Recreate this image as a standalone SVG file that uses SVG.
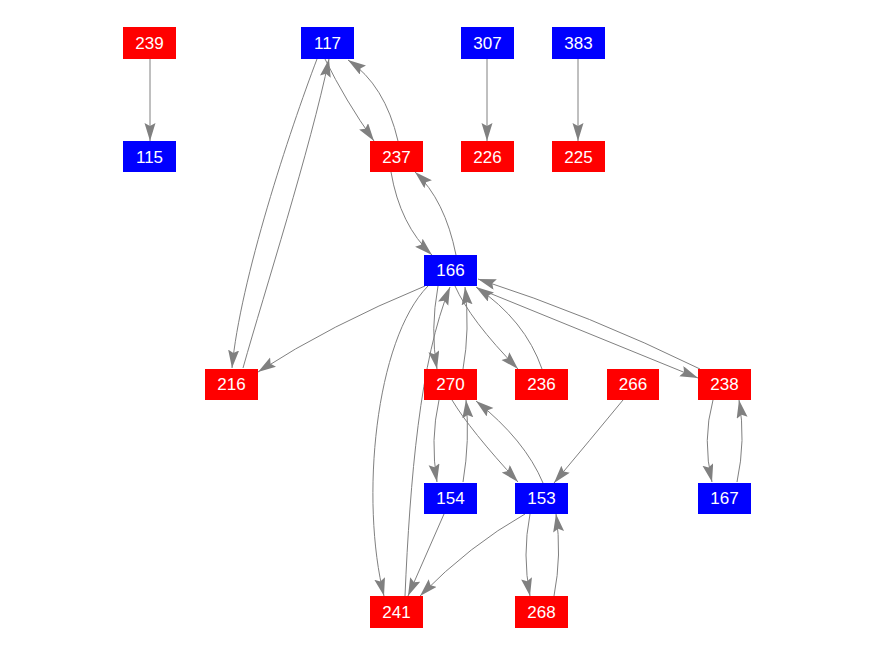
<svg xmlns="http://www.w3.org/2000/svg" width="876" height="656" viewBox="0 0 876 656">
<defs>
<style>
.r{fill:#ff0000}
.b{fill:#0000ff}
text{font-family:"Liberation Sans",Arial,sans-serif;font-size:17px;fill:#ffffff;text-anchor:middle}
.e path{fill:none;stroke:#808080;stroke-width:1;marker-end:url(#ah)}
</style>
<marker id="ah" markerUnits="userSpaceOnUse" markerWidth="19" markerHeight="12" refX="18" refY="5.5" orient="auto" viewBox="0 0 19 12">
<path d="M0,0 L18,5.5 L0,11 L3,5.5 Z" fill="#808080"/>
</marker>
</defs>
<rect width="876" height="656" fill="#ffffff"/>
<g class="e" id="edges">
<path d="M150,59 L150,141"/>
<path d="M487,59 L487,141"/>
<path d="M578,59 L578,141"/>
<path d="M325,59 Q345,100 374,141"/>
<path d="M398,141 Q385,85 348,60"/>
<path d="M317,59 C290,130 240,280 232,368"/>
<path d="M243,368 C265,290 310,150 329,59"/>
<path d="M391,172 Q400,225 432,255"/>
<path d="M456,255 Q445,200 415,172"/>
<path d="M425,286 Q330,325 258,372"/>
<path d="M428,286 C375,340 360,500 384,596"/>
<path d="M405,596 C410,480 420,360 450,287"/>
<path d="M438,286 Q430,330 437,369"/>
<path d="M463,369 Q470,330 465,287"/>
<path d="M439,400 Q430,440 437,482"/>
<path d="M463,482 Q470,440 466,400"/>
<path d="M452,400 Q470,430 518,482"/>
<path d="M543,483 Q525,440 476,401"/>
<path d="M444,514 L408,596"/>
<path d="M525,514 Q470,545 420,596"/>
<path d="M530,514 Q522,555 530,596"/>
<path d="M554,596 Q562,555 556,514"/>
<path d="M623,400 Q590,440 554,483"/>
<path d="M455,286 Q470,320 518,369"/>
<path d="M542,369 Q525,320 476,287"/>
<path d="M477,288 L698,378"/>
<path d="M700,369 Q590,315 478,279"/>
<path d="M713,400 Q702,440 712,482"/>
<path d="M737,482 Q746,440 739,400"/>
</g>
<g id="n239"><rect class="r" x="123" y="27" width="53" height="32"/><text x="149.5" y="49">239</text></g>
<g id="n117"><rect class="b" x="301" y="27" width="53" height="32"/><text x="327.5" y="49">117</text></g>
<g id="n307"><rect class="b" x="461" y="27" width="53" height="32"/><text x="487.5" y="49">307</text></g>
<g id="n383"><rect class="b" x="552" y="27" width="53" height="32"/><text x="578.5" y="49">383</text></g>
<g id="n115"><rect class="b" x="123" y="141" width="53" height="31"/><text x="149.5" y="163">115</text></g>
<g id="n237"><rect class="r" x="370" y="141" width="53" height="31"/><text x="396.5" y="163">237</text></g>
<g id="n226"><rect class="r" x="461" y="141" width="53" height="31"/><text x="487.5" y="163">226</text></g>
<g id="n225"><rect class="r" x="552" y="141" width="53" height="31"/><text x="578.5" y="163">225</text></g>
<g id="n166"><rect class="b" x="424" y="255" width="53" height="31"/><text x="450.5" y="276">166</text></g>
<g id="n216"><rect class="r" x="205" y="369" width="53" height="31"/><text x="231.5" y="390">216</text></g>
<g id="n270"><rect class="r" x="424" y="369" width="53" height="31"/><text x="450.5" y="390">270</text></g>
<g id="n236"><rect class="r" x="515" y="369" width="53" height="31"/><text x="541.5" y="390">236</text></g>
<g id="n266"><rect class="r" x="607" y="369" width="52" height="31"/><text x="633" y="390">266</text></g>
<g id="n238"><rect class="r" x="698" y="369" width="53" height="31"/><text x="724.5" y="390">238</text></g>
<g id="n154"><rect class="b" x="424" y="483" width="53" height="31"/><text x="450.5" y="504">154</text></g>
<g id="n153"><rect class="b" x="515" y="483" width="53" height="31"/><text x="541.5" y="504">153</text></g>
<g id="n167"><rect class="b" x="698" y="483" width="53" height="31"/><text x="724.5" y="504">167</text></g>
<g id="n241"><rect class="r" x="370" y="596" width="53" height="32"/><text x="396.5" y="618">241</text></g>
<g id="n268"><rect class="r" x="515" y="596" width="53" height="32"/><text x="541.5" y="618">268</text></g>
</svg>
